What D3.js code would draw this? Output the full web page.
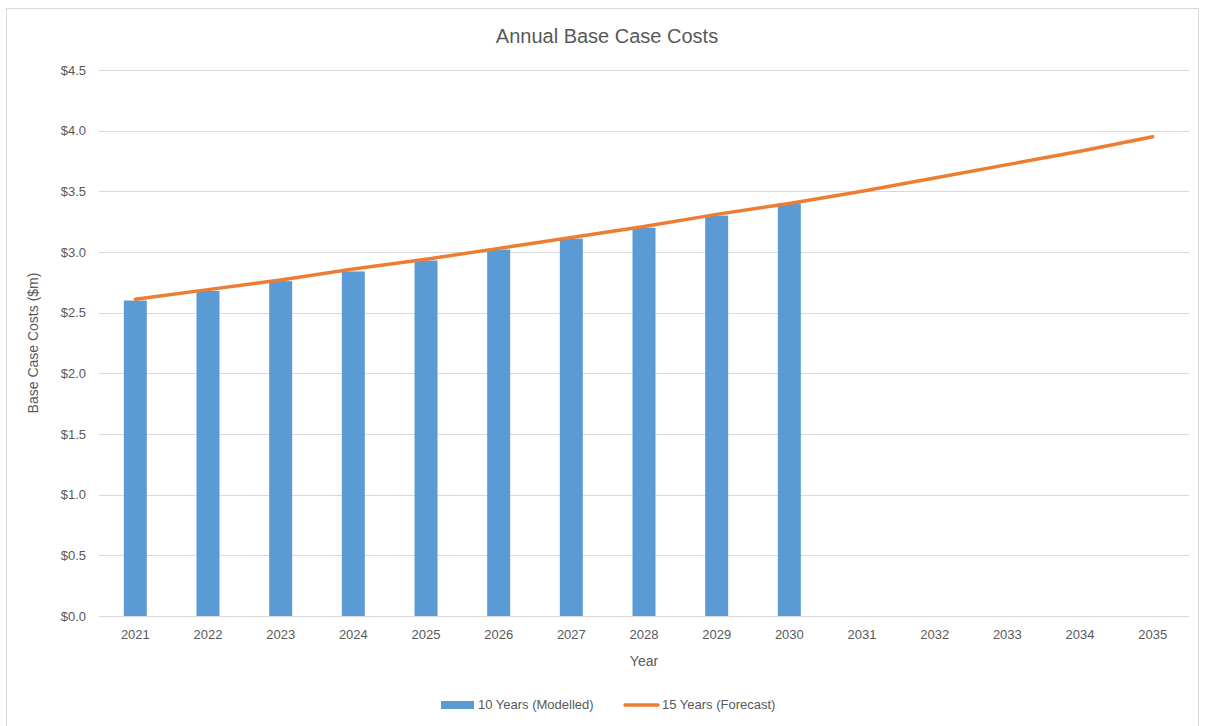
<!DOCTYPE html>
<html><head><meta charset="utf-8">
<script src="https://cdn.jsdelivr.net/npm/d3@7"></script>
<style>body{margin:0;background:#fff}svg{display:block}text{font-family:"Liberation Sans","DejaVu Sans",sans-serif;fill:#595959}</style>
</head><body><svg id="c" width="1208" height="726"></svg>
<script>
const years = ["2021","2022","2023","2024","2025","2026","2027","2028","2029","2030","2031","2032","2033","2034","2035"];
const modelled = [2.60,2.68,2.76,2.84,2.93,3.02,3.11,3.20,3.30,3.40];
const forecast = [2.61,2.69,2.77,2.86,2.94,3.03,3.12,3.21,3.31,3.40,3.50,3.61,3.72,3.83,3.95];
const yTicks = [0,0.5,1.0,1.5,2.0,2.5,3.0,3.5,4.0,4.5];
const title = "Annual Base Case Costs";
const xTitle = "Year";
const yTitle = "Base Case Costs ($m)";
const seriesNames = ["10 Years (Modelled)","15 Years (Forecast)"];

const svg = d3.select("#c");
svg.append("rect").attr("x",6.5).attr("y",8.5).attr("width",1192).attr("height",730)
  .attr("fill","#fff").attr("stroke","#d9d9d9");

const L=99,R=1189,T=70,B=616;
const x = d3.scaleBand().domain(years).range([L,R]);
const y = d3.scaleLinear().domain([0,4.5]).range([B,T]);

// gridlines
svg.append("g").selectAll("line").data(yTicks).join("line")
  .attr("x1",L).attr("x2",R).attr("y1",d=>Math.round(y(d))+0.5).attr("y2",d=>Math.round(y(d))+0.5)
  .attr("stroke","#d9d9d9").attr("stroke-width",1);

// y axis labels
const yAxis = d3.axisLeft(y).tickValues(yTicks).tickSize(0).tickPadding(0)
  .tickFormat(d=>"$"+d3.format(".1f")(d));
const ya = svg.append("g").attr("transform",`translate(86,0)`).call(yAxis);
ya.select(".domain").remove();
ya.selectAll("text").attr("font-size",13).attr("fill","#595959").style("font-family","Liberation Sans");

// x axis
const xAxis = d3.axisBottom(x).tickSize(0).tickPadding(14);
const xa = svg.append("g").attr("transform",`translate(0,${B})`).call(xAxis);
xa.select(".domain").remove();
xa.selectAll("text").attr("font-size",13).attr("fill","#595959").style("font-family","Liberation Sans");

// bars
const bw = 23;
svg.append("g").selectAll("rect").data(modelled).join("rect")
  .attr("x",(d,i)=>x(years[i])+x.bandwidth()/2-bw/2)
  .attr("y",d=>y(d)).attr("width",bw).attr("height",d=>B-y(d))
  .attr("fill","#5b9bd5");

// line
const line = d3.line().x((d,i)=>x(years[i])+x.bandwidth()/2).y(d=>y(d));
svg.append("path").datum(forecast).attr("d",line).attr("fill","none")
  .attr("stroke","#ed7d31").attr("stroke-width",3.5).attr("stroke-linecap","round");

// title
svg.append("text").attr("x",607).attr("y",43).attr("text-anchor","middle")
  .attr("font-size",20).text(title);
svg.append("text").attr("x",644).attr("y",666).attr("text-anchor","middle")
  .attr("font-size",14).text(xTitle);
svg.append("text").attr("transform",`translate(38,343) rotate(-90)`).attr("text-anchor","middle")
  .attr("font-size",14).text(yTitle);

// legend
const lg = svg.append("g");
lg.append("rect").attr("x",441).attr("y",701).attr("width",33).attr("height",8).attr("fill","#5b9bd5");
lg.append("text").attr("x",478).attr("y",709).attr("font-size",13).text(seriesNames[0]);
lg.append("line").attr("x1",625).attr("x2",658).attr("y1",705).attr("y2",705)
  .attr("stroke","#ed7d31").attr("stroke-width",3.5).attr("stroke-linecap","round");
lg.append("text").attr("x",662).attr("y",709).attr("font-size",13).text(seriesNames[1]);
</script></body></html>
